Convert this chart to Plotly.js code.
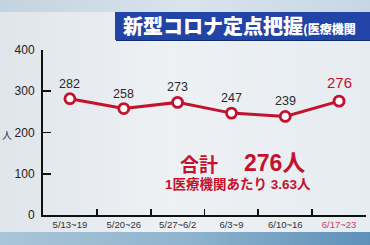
<!DOCTYPE html>
<html><head><meta charset="utf-8">
<script src="https://cdn.plot.ly/plotly-3.0.1.min.js"></script>
<style>
html,body{margin:0;padding:0;width:370px;height:245px;overflow:hidden;}
body{background:linear-gradient(to right, #dfe5ea 0%, #eef1f4 45%, #e6ecf1 100%);}
#bgtop{position:absolute;left:0;top:0;width:370px;height:12px;background:linear-gradient(to right,#c3d3df,#d9e4ec 50%,#c6d7e4);}
#bgbot{position:absolute;left:0;top:232px;width:370px;height:13px;background:linear-gradient(to right,#a9c5d8,#8fb4ce 50%,#5e90b8);}
#chart{position:absolute;left:0;top:0;width:370px;height:245px;}
</style></head>
<body>
<div id="bgtop"></div><div id="bgbot"></div>
<div id="chart"></div>
<script>
const categories = ["5/13~19","5/20~26","5/27~6/2","6/3~9","6/10~16","6/17~23"];
const values = [282, 258, 273, 247, 239, 276];
const yTicks = [0, 100, 200, 300, 400];
const titleMain = "新型コロナ定点把握";
const titleSub = "(医療機関";
const totalLabel = "合計";
const totalValue = "276人";
const perText = "1医療機関あたり 3.63人";
const yUnit = "人";

const W = 370, H = 245;
const M = {l: 43, r: 4, t: 50, b: 30};
const pw = W - M.l - M.r, ph = H - M.t - M.b;
const px = x => (x - M.l) / pw;
const py = y => (H - M.b - y) / ph;

const red = "#c3122d";
const last = values.length - 1;
const ticktext = categories.map((c, i) => i === last ? `<span style="color:#c8405a">${c}</span>` : c);

const trace = {
  x: categories, y: values, type: "scatter", mode: "lines+markers",
  line: {color: red, width: 3},
  marker: {size: 10, color: "#ffffff", line: {color: red, width: 2.8}},
  hoverinfo: "none"
};

const annotations = values.map((v, i) => ({
  x: categories[i], y: v, xref: "x", yref: "y", showarrow: false,
  text: String(v), yshift: i === last ? 19 : 15,
  font: {family: "Liberation Sans, Arial", size: i === last ? 15 : 12.5, color: i === last ? red : "#2a2a2a"}
}));
annotations.push(
  {xref: "paper", yref: "paper", x: px(121), y: py(26), xanchor: "left", yanchor: "middle", showarrow: false,
   text: `${titleMain}<span style="font-size:12px">${titleSub}</span>`,
   font: {family: "Noto Sans CJK JP", size: 20, weight: 900, color: "#ffffff"}},
  {xref: "paper", yref: "paper", x: px(178), y: py(163), xanchor: "left", yanchor: "middle", showarrow: false,
   text: `<b>${totalLabel}</b>`, font: {family: "Noto Sans CJK JP", size: 19, color: red}},
  {xref: "paper", yref: "paper", x: px(242), y: py(163), xanchor: "left", yanchor: "middle", showarrow: false,
   text: `<b>${totalValue}</b>`, font: {family: "Liberation Sans, Noto Sans CJK JP", size: 23, color: red}},
  {xref: "paper", yref: "paper", x: px(238), y: py(184), xanchor: "center", yanchor: "middle", showarrow: false,
   text: `<b>${perText}</b>`, font: {family: "Liberation Sans, Noto Sans CJK JP", size: 13.5, color: red}},
  {xref: "paper", yref: "paper", x: px(7), y: py(134), xanchor: "center", yanchor: "middle", showarrow: false,
   text: yUnit, font: {family: "Noto Sans CJK JP", size: 10, color: "#333"}}
);

const layout = {
  width: W, height: H, margin: M,
  paper_bgcolor: "rgba(0,0,0,0)", plot_bgcolor: "rgba(0,0,0,0)",
  showlegend: false,
  xaxis: {
    type: "category", range: [-0.5, 5.5], tickmode: "array", tickvals: categories, ticktext: ticktext,
    tickson: "boundaries", ticks: "inside", ticklen: 6, tickwidth: 1.8, tickcolor: "#111",
    showline: true, linecolor: "#111", linewidth: 2, showgrid: false, zeroline: false,
    tickfont: {family: "Liberation Sans, Arial", size: 9.5, color: "#333"}, fixedrange: true
  },
  yaxis: {
    range: [0, 400], tickmode: "array", tickvals: yTicks,
    ticks: "inside", ticklen: 8, tickwidth: 1.8, tickcolor: "#111",
    showline: true, linecolor: "#111", linewidth: 2, showgrid: false, zeroline: false,
    tickfont: {family: "Liberation Sans, Arial", size: 12, color: "#222"}, ticklabelstandoff: 4, fixedrange: true
  },
  shapes: [
    {type: "rect", xref: "paper", yref: "paper", x0: px(116), x1: px(373), y0: py(41), y1: py(14),
     fillcolor: "#0d2f6e", line: {width: 0}, layer: "below"},
    {type: "rect", xref: "paper", yref: "paper", x0: px(115), x1: px(372), y0: py(40), y1: py(12),
     fillcolor: "#2244a6", line: {width: 0}, layer: "below"}
  ],
  annotations: annotations
};

Plotly.newPlot("chart", [trace], layout, {staticPlot: true, displayModeBar: false});
</script>
</body></html>
